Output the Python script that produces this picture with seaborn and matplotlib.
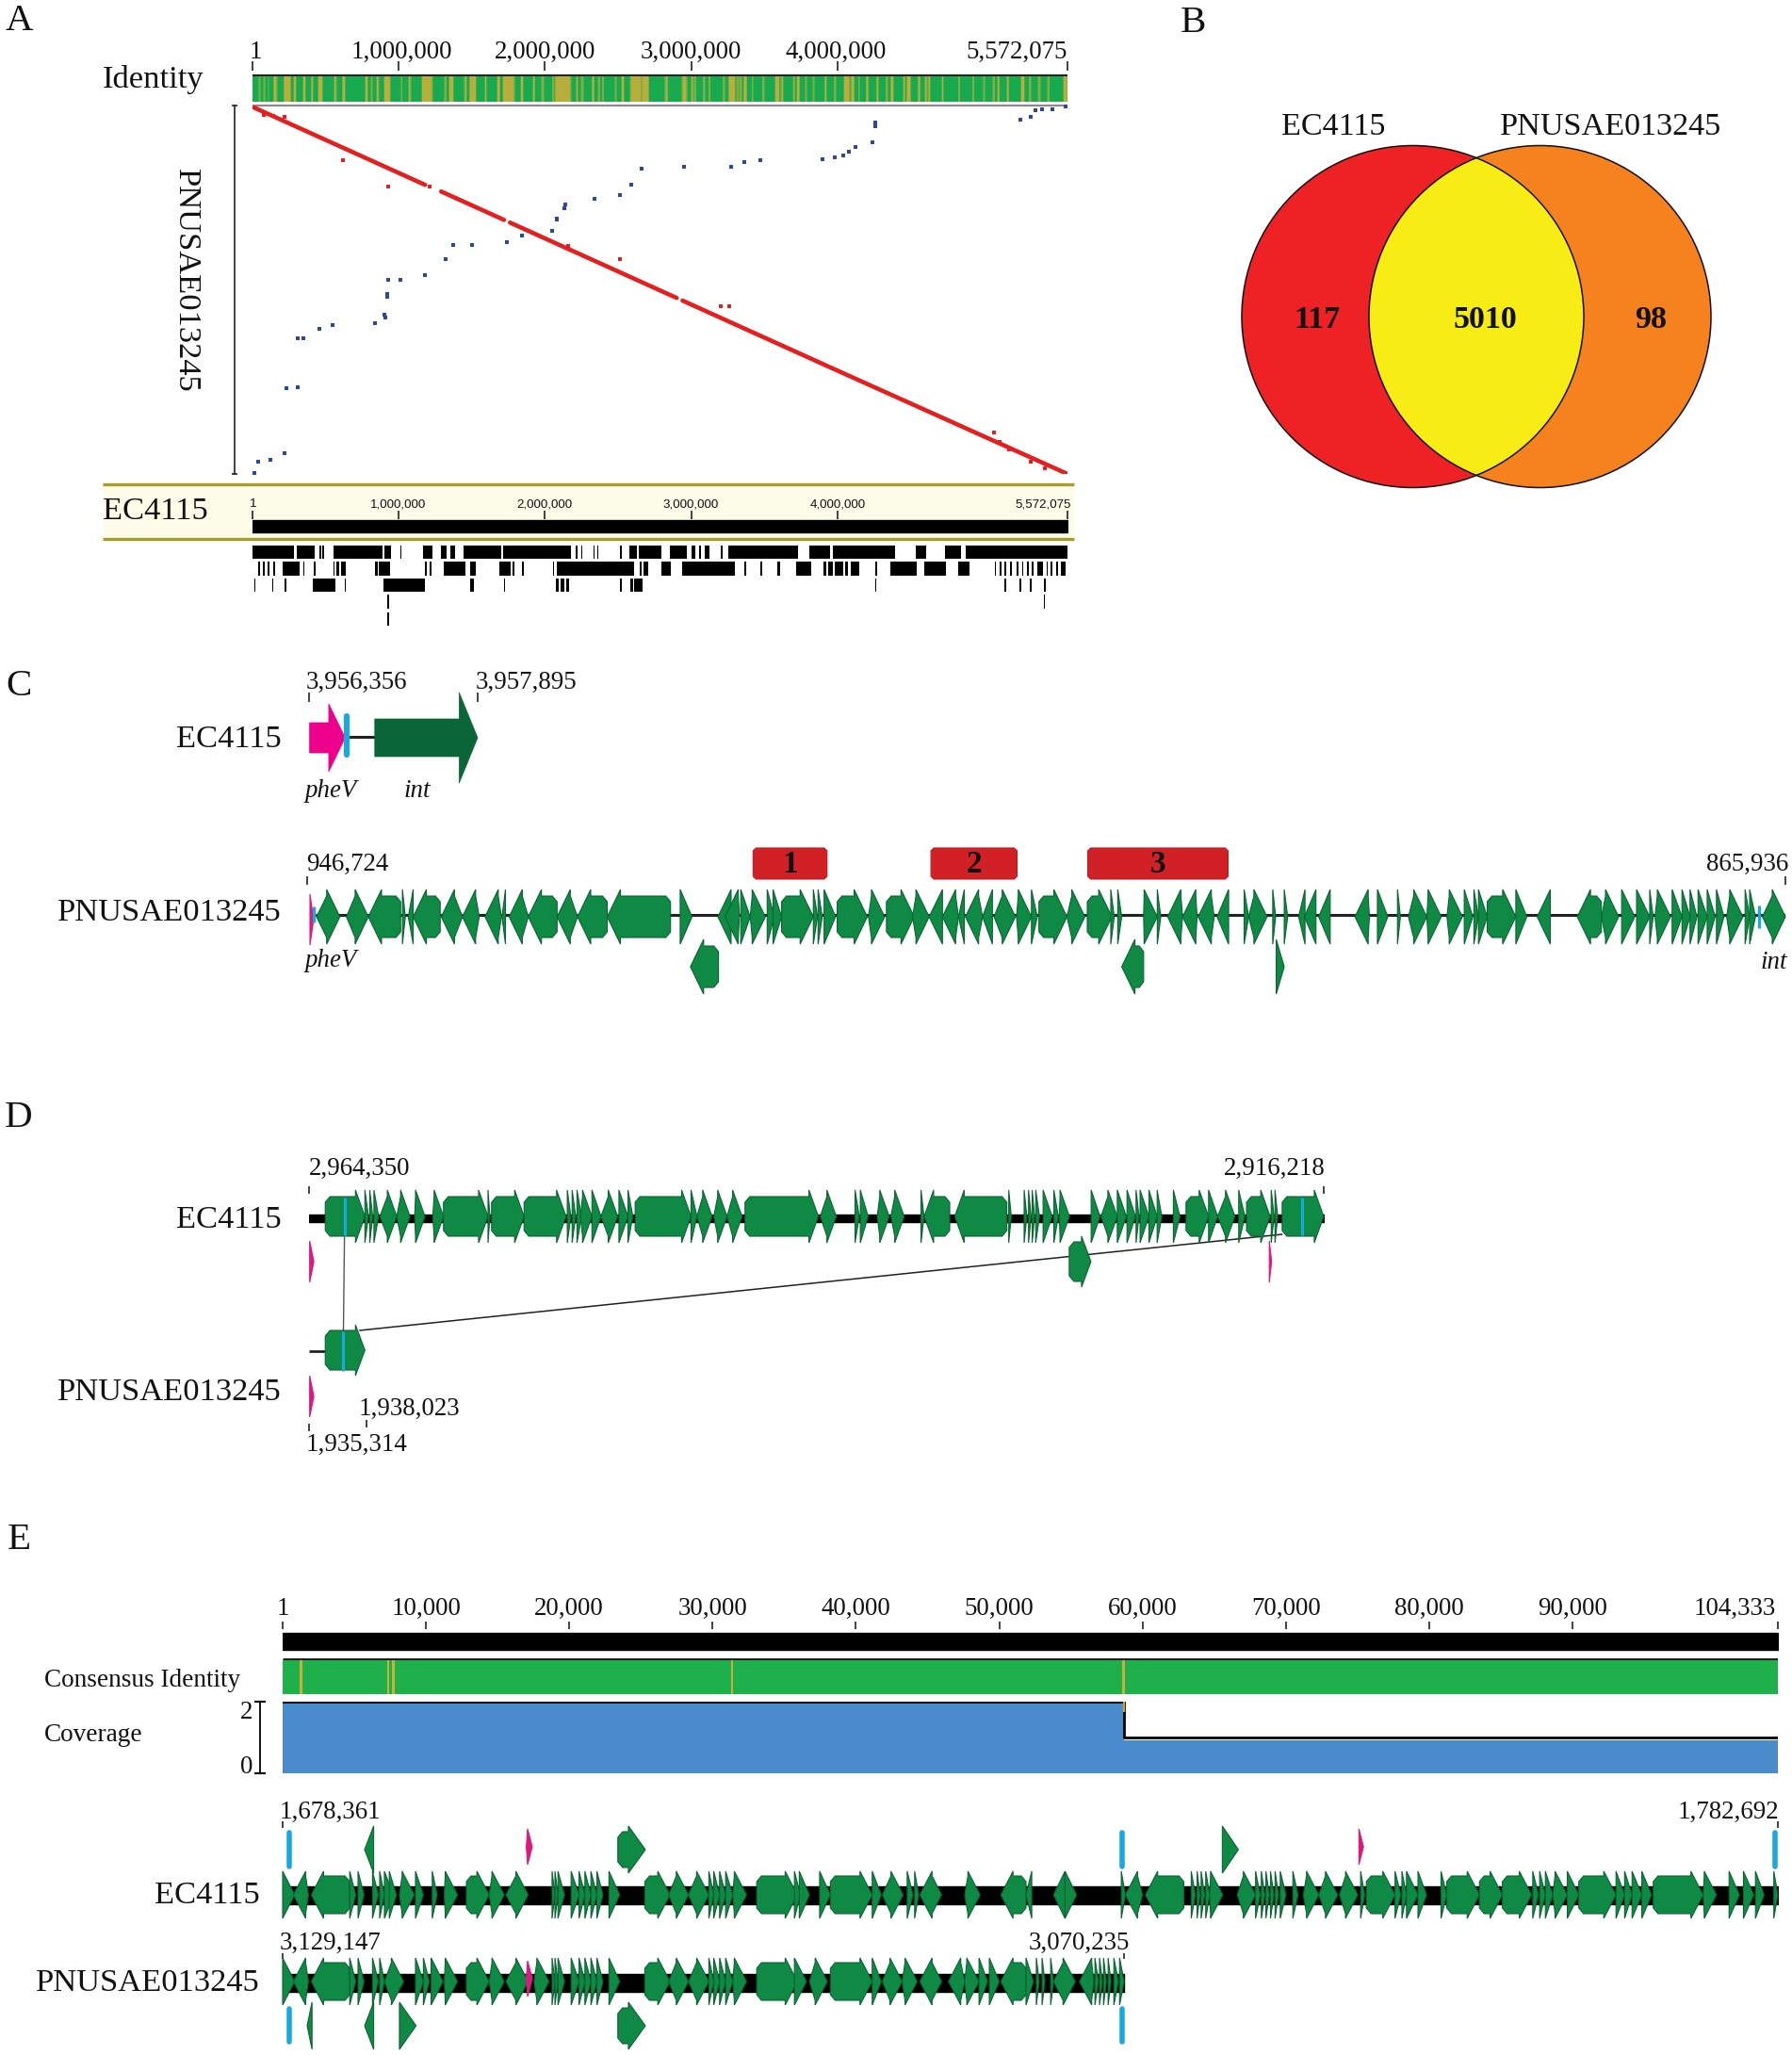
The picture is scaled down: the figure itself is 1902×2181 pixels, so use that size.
import numpy as np
import pandas as pd
import matplotlib
matplotlib.use("Agg")
import matplotlib.pyplot as plt
from matplotlib.colors import LinearSegmentedColormap
from matplotlib.patches import Polygon, Circle, Rectangle
import seaborn as sns

sns.set_theme(style="white")
plt.rcParams["font.family"] = ["Liberation Serif", "DejaVu Serif"]

# ---------------------------------------------------------------- data: panel A (Mb)
genome_len = 5.572075
a_tick_pos = [0.0, 1.0, 2.0, 3.0, 4.0, 5.572]
a_tick_lab = ["1", "1,000,000", "2,000,000", "3,000,000", "4,000,000", "5,572,075"]
identity_low = [(.043,.052),(.075,.084),(.107,.112),(.144,.168),(.215,.262),(.284,.299),(.348,.363),(.402,.412),
    (.451,.477),(.558,.573),(.612,.634),(.773,.788),(.81,.82),(.846,.863),(.898,.945),(1.014,1.024),(1.067,1.082),
    (1.16,1.229),(1.314,1.327),(1.347,1.372),(1.45,1.465),(1.486,1.529),(1.587,1.598),(1.673,1.69),(1.712,1.791),
    (1.834,1.851),(1.92,1.931),(1.98,1.991),(2.051,2.062),(2.071,2.178),(2.212,2.223),(2.249,2.26),(2.32,2.335),
    (2.363,2.378),(2.393,2.401),(2.481,2.489),(2.522,2.539),(2.582,2.657),(2.661,2.711),(2.822,2.839),(2.938,2.968),
    (3.0,3.011),(3.022,3.033),(3.082,3.091),(3.119,3.129),(3.215,3.226),(3.254,3.301),(3.312,3.323),(3.333,3.344),
    (3.359,3.381),(3.415,3.424),(3.488,3.499),(3.576,3.602),(3.613,3.63),(3.699,3.709),(3.72,3.741),(3.78,3.788),
    (3.831,3.84),(3.913,3.924),(3.977,3.988),(4.042,4.085),(4.091,4.117),(4.143,4.153),(4.196,4.209),(4.267,4.278),
    (4.332,4.342),(4.364,4.381),(4.45,4.46),(4.475,4.503),(4.551,4.564),(4.596,4.611),(4.622,4.632),(4.712,4.725),
    (4.826,4.836),(4.922,4.933),(4.997,5.008),(5.062,5.073),(5.094,5.105),(5.158,5.169),(5.255,5.277),(5.309,5.32),
    (5.373,5.384),(5.438,5.448),(5.545,5.572)]
fwd_seg_x = [0.0, 1.18, 1.29, 1.72, 1.76, 2.90, 2.94, 3.94, 3.95, 5.565]
fwd_seg_y = [0.02, 1.20, 1.30, 1.73, 1.77, 2.91, 2.95, 3.95, 3.96, 5.565]
fwd_seg_id = [0, 0, 1, 1, 2, 2, 3, 3, 4, 4]
fwd_x = [.62,.93,2.51,3.20,3.26,.22,5.07,5.11,1.21,2.16,5.32,5.42,.08,.14,5.17]
fwd_y = [.83,1.23,2.32,3.04,3.04,.17,4.94,5.09,1.23,2.12,5.39,5.48,.14,.15,5.20]
rev_x = [.01,.04,.12,.22,.23,.31,.31,.35,.46,.55,.84,.90,.91,.92,.92,.93,1.01,1.18,1.32,1.37,1.50,1.74,1.84,2.05,2.08,2.08,2.13,2.14,
         2.34,2.51,2.59,2.66,2.95,3.27,3.36,3.47,3.90,3.98,4.04,4.08,4.12,4.24,4.26,4.26,4.26,5.25,5.32,5.35,5.40,5.47,5.56]
rev_y = [5.56,5.39,5.36,5.26,4.27,4.26,3.52,3.52,3.38,3.32,3.29,3.17,3.20,2.85,2.89,2.63,2.63,2.56,2.32,2.11,2.11,2.07,1.96,1.90,
         1.73,1.71,1.56,1.50,1.41,1.36,1.20,.95,.92,.92,.86,.83,.81,.78,.75,.70,.62,.56,.25,.28,.31,.22,.17,.07,.06,.06,.02]
rep_row1 = [(0,.281),(.305,.424),(.458,.468),(.478,.488),(.552,.887),(.901,.946),(1.01,1.02),(1.163,1.232),(1.291,1.33),
    (1.35,1.384),(1.443,1.7),(1.714,2.177),(2.207,2.222),(2.246,2.256),(2.33,2.34),(2.355,2.365),(2.512,2.522),
    (2.576,2.631),(2.64,2.793),(2.852,2.97),(3.005,3.03),(3.054,3.064),(3.094,3.123),(3.202,3.212),(3.251,3.729),
    (3.808,3.951),(3.966,4.394),(4.532,4.606),(4.734,4.842),(4.877,5.572)]
rep_row2 = [(.01,.015),(.039,.049),(.074,.084),(.103,.113),(.143,.153),(.207,.32),(.345,.355),(.419,.429),(.552,.562),
    (.576,.591),(.606,.635),(.837,.857),(.862,.941),(1.177,1.192),(1.212,1.227),(1.305,1.453),(1.488,1.527),(1.685,1.764),
    (1.778,1.788),(1.842,1.852),(2.054,2.064),(2.079,2.611),(2.645,2.66),(2.675,2.704),(2.793,2.862),(2.936,3.3),
    (3.365,3.374),(3.473,3.483),(3.586,3.606),(3.714,3.818),(3.906,3.921),(3.936,3.97),(3.98,4.039),(4.049,4.074),
    (4.089,4.148),(4.256,4.271),(4.36,4.542),(4.596,4.739),(4.828,4.901),(5.074,5.084),(5.108,5.118),(5.143,5.153),
    (5.182,5.192),(5.227,5.236),(5.261,5.271),(5.296,5.305),(5.33,5.34),(5.369,5.404),(5.429,5.438),(5.458,5.468),
    (5.493,5.507),(5.527,5.557)]
rep_row3 = [(.01,.02),(.133,.143),(.222,.232),(.414,.567),(.631,.64),(.897,1.182),(1.488,1.517),(1.719,1.729),(2.074,2.094),
    (2.108,2.133),(2.143,2.163),(2.512,2.522),(2.586,2.601),(2.611,2.67),(4.256,4.266),(5.143,5.153),(5.246,5.256),
    (5.315,5.325),(5.414,5.424)]
rep_row4 = [(.921,.936),(5.409,5.419)]
rep_row5 = [(.921,.936)]

# ---------------------------------------------------------------- data: panel B
venn_counts = [117, 5010, 98]
venn_names = ["EC4115", "PNUSAE013245"]

# ---------------------------------------------------------------- data: panel C (kb from left end; start > end = reverse strand)
c_ec_len = 1.539
c_pn_len = 80.9
c_pn_genes = [(.36,1.64),(2.0,3.2),(4.97,3.2),(5.07,5.23),(5.66,5.39),(7.14,5.66),(8.36,7.2),(9.28,8.36),(10.5,9.6),(10.72,10.53),
    (11.97,10.92),(13.55,11.97),(14.67,13.55),(16.3,14.67),(19.77,16.3),(20.3,20.95),(23.09,22.37),(23.55,22.76),(23.62,24.14),
    (24.14,24.97),(25.07,25.46),(25.39,25.86),(25.86,27.6),(27.6,27.83),(27.86,28.09),(28.19,28.82),(28.91,30.56),(30.62,31.51),
    (31.61,33.13),(33.04,33.95),(34.68,33.95),(35.56,34.68),(35.88,35.56),(36.88,35.94),(37.42,36.88),(37.51,38.68),(38.74,39.56),
    (39.56,39.88),(39.97,41.51),(41.51,42.49),(42.62,43.97),(43.91,44.1),(44.29,44.51),(45.71,46.46),(46.46,46.65),(47.85,47.03),
    (48.64,47.85),(49.58,48.7),(50.37,49.74),(51.22,51.47),(51.47,52.48),(52.79,52.95),(53.42,53.61),(54.56,54.21),(55.16,54.53),
    (55.94,55.31),(58.09,57.3),(58.53,59.1),(59.63,59.79),(60.23,61.24),(61.24,62.03),(62.34,63.19),(63.29,63.76),(63.82,64.07),
    (64.07,64.55),(64.55,66.12),(66.12,66.72),(68.01,67.29),(70.81,69.49),(70.81,71.76),(71.92,72.64),(72.74,73.46),(73.46,73.65),
    (73.75,74.6),(74.69,75.23),(75.23,75.67),(75.67,76.05),(76.11,76.61),(76.61,77.05),(77.12,77.53),(77.68,78.57),(78.69,78.94),
    (78.94,79.26),(79.64,80.9)]
c_pn_lower = [(22.4,20.86),(45.71,44.51),(52.98,53.42)]
c_boxes = [(24.3,28.35,"1"),(34.05,38.77,"2"),(42.65,50.34,"3")]

# ---------------------------------------------------------------- data: panel D (kb)
d_len = 48.132
d_ec_genes = [(.77,2.65),(2.65,2.82),(2.88,3.02),(3.08,3.30),(3.36,4.16),(4.16,4.79),(5.01,5.50),(5.87,6.38),(6.38,8.49),(8.49,8.58),
    (8.66,10.2),(10.2,12.19),(12.25,12.42),(12.48,12.65),(12.71,12.93),(12.88,13.42),(13.42,13.85),(13.85,14.64),(14.70,15.13),
    (15.13,15.36),(15.47,18.12),(18.12,18.4),(18.4,19.12),(19.2,19.83),(19.83,20.54),(20.68,24.16),(24.25,25.01),(25.9,26.1),
    (26.15,26.52),(26.95,27.52),(27.6,28.23),(29.03,29.17),(30.39,29.18),(33.1,30.63),(33.19,33.31),(33.92,34.05),(34.13,34.25),
    (34.3,34.42),(34.47,34.65),(34.82,35.25),(35.33,35.54),(35.59,36.07),(37.1,37.52),(37.57,38.34),(38.34,38.77),(38.8,39.2),
    (39.23,39.37),(39.42,39.84),(39.84,40.23),(40.23,40.45),(41.0,41.31),(41.6,42.67),(42.67,43.1),(43.1,43.92),(44.1,44.39),
    (44.47,45.59),(45.64,45.78),(45.82,45.95),(46.16,48.13)]
d_ec_lower = [(36.06,37.09)]
d_pn_len = 2.709
d_pn_genes = [(.77,2.65)]

# ---------------------------------------------------------------- data: panel E (kb)
e_len = 104.333
e_tick_pos = [0, 10, 20, 30, 40, 50, 60, 70, 80, 90, 104.333]
e_tick_lab = ["1", "10,000", "20,000", "30,000", "40,000", "50,000", "60,000", "70,000", "80,000", "90,000", "104,333"]
consensus_low = [(1.25,1.38),(7.32,7.45),(7.65,7.78),(31.25,31.38),(58.55,58.8)]
cov_pos = [0, 58.7, 58.7, 104.333]
cov_val = [2, 2, 1, 1]
e_ec_genes = [(0,.84),(1.8,.75),(4.68,2.0),(4.68,5.1),(5.26,5.68),(6.27,6.68),(6.77,7.1),(7.1,7.73),(7.44,7.94),(8.15,9.19),(9.27,9.82),
    (10.44,10.78),(11.28,12.2),(12.82,14.41),(14.41,15.46),(15.58,17.13),(18.8,19.0),(19.0,19.21),(19.21,19.67),(20.13,20.68),(20.68,21.09),
    (21.09,21.51),(21.51,21.93),(21.93,22.35),(22.77,23.52),(25.27,27.03),(26.94,28.32),(28.32,29.74),(29.74,30.08),(30.08,30.49),(30.49,30.91),
    (30.91,31.41),(31.41,32.37),(33.08,35.92),(35.71,36.13),(36.05,36.76),(37.47,38.22),(38.22,41.14),(41.14,41.77),(41.85,43.3),(43.58,43.98),
    (44.1,44.38),(45.98,44.46),(47.59,48.67),(51.87,50.11),(52.27,51.87),(54.59,53.79),(54.59,55.4),(58.52,58.8),(60.0,58.8),(62.88,60.2),
    (63.4,63.69),(63.81,64.01),(64.09,64.33),(64.41,64.69),(64.69,65.6),(66.61,67.89),(67.89,68.21),(68.29,68.53),(68.61,68.85),(68.93,69.17),
    (69.25,69.49),(69.61,70.01),(70.49,70.85),(71.22,72.3),(72.3,73.62),(73.74,75.02),(75.22,75.5),(75.62,77.62),(77.62,78.02),(78.1,78.42),
    (78.42,79.22),(79.22,79.82),(80.83,81.23),(81.23,83.51),(83.51,85.11),(85.11,87.15),(87.23,87.63),(87.71,88.11),(88.11,88.63),(88.63,89.64),
    (89.64,90.44),(90.44,93.04),(93.04,93.64),(93.64,94.16),(94.16,94.84),(94.84,95.52),(95.64,99.12),(99.12,100.05),(100.93,101.65),
    (101.93,102.65),(102.77,103.37),(104.05,104.33)]
e_ec_upper = [(6.35,5.72),(23.39,25.31),(65.57,66.69)]
e_pn_len = 58.72
e_pn_genes = [(0,.84),(1.8,.75),(4.68,2.0),(4.68,5.1),(5.26,5.68),(6.27,6.68),(6.77,7.1),(7.1,8.44),(9.27,9.82),(9.82,10.23),(10.36,11.19),
    (11.28,12.2),(12.82,14.41),(14.41,15.46),(15.58,17.13),(17.54,18.59),(18.8,19.0),(19.0,19.21),(19.21,19.67),(20.13,20.68),(20.68,21.09),
    (21.09,21.51),(21.51,21.93),(21.93,22.35),(22.77,23.52),(25.27,27.03),(26.94,28.32),(28.32,29.74),(29.74,30.08),(30.08,30.49),(30.49,30.91),
    (30.91,31.41),(31.41,32.37),(33.08,35.92),(35.71,36.55),(36.76,38.01),(38.22,41.14),(41.14,41.77),(41.85,43.23),(43.23,44.28),(45.98,44.46),
    (47.59,46.46),(47.59,48.59),(48.59,49.19),(49.31,50.0),(51.87,50.11),(51.87,52.39),(52.59,52.79),(52.99,53.19),(53.59,53.79),(53.79,55.31),
    (56.6,55.6),(56.68,56.92),(57.0,57.2),(57.28,57.48),(57.6,57.8),(58.0,58.32),(58.4,58.72)]
e_pn_lower = [(2.05,1.71),(6.35,5.72),(8.15,9.31),(23.39,25.31)]
e_blue_ec = [.46, 58.6, 104.13]
e_blue_pn = [.46, 58.6]
e_pink_ec = [(17.0,17.42),(75.1,75.42)]
e_pink_pn = [(17.0,17.42)]

# ---------------------------------------------------------------- styles
W, H = 1902, 2181
GREEN, GREEN_EDGE, DARK_GREEN = "#0F8A45", "#0B6332", "#0A6636"
PINK, CYAN, RED_BOX = "#D81B80", "#19A9E0", "#D22027"
OLIVE, ID_GREEN = "#B8AE3C", "#18AA4E"
SERIF_LAB, SERIF_NUM, LETTER = 24.8, 19.4, 29.5

fig = plt.figure(figsize=(W / 100, H / 100), dpi=100, facecolor="white")


def px_axes(x0, y0, x1, y1, xlim=None, pixel_y=True):
    ax = fig.add_axes([x0 / W, 1 - y1 / H, (x1 - x0) / W, (y1 - y0) / H], zorder=2)
    ax.patch.set_alpha(0)
    ax.set_axis_off()
    if xlim is not None:
        ax.set_xlim(*xlim)
    if pixel_y:
        ax.set_ylim(y1, y0)
    return ax


ov = fig.add_axes([0, 0, 1, 1], zorder=1)
ov.set_xlim(0, W)
ov.set_ylim(H, 0)
ov.set_axis_off()


def label(x, y, s, size=SERIF_NUM, ha="left", **kw):
    ov.text(x, y + 2, s, fontsize=size, ha=ha, va="center", color="#111111", **kw)


def gene(ax, a, b, yc, body, head, hpx, ppk, color=GREEN, edge=GREEN_EDGE, z=3, flat=False):
    """Arrow-shaped gene from a to b (a > b means reverse strand)."""
    d = 1 if b >= a else -1
    w = abs(b - a)
    h = min(w, hpx / ppk)
    neck = b - d * h
    rear = (w - h) * ppk
    if rear < 0.5:
        pts = [(a, yc - head), (b, yc), (a, yc + head)]
    elif rear <= 11 and not flat:
        pts = [(a, yc), (neck, yc - body), (neck, yc - head), (b, yc), (neck, yc + head), (neck, yc + body)]
    else:
        c = min(5.0, rear / 2) / ppk
        pts = [(a + d * c, yc - body), (neck, yc - body), (neck, yc - head), (b, yc), (neck, yc + head),
               (neck, yc + body), (a + d * c, yc + body), (a, yc + body - 6), (a, yc - body + 6)]
    ax.add_patch(Polygon(pts, closed=True, facecolor=color, edgecolor=edge, linewidth=0.8, zorder=z, clip_on=False))


def strip(ax, length, low, cells, base, dip, smooth=1):
    """Identity strip: one row of windows, drawn as a seaborn heatmap."""
    edges = np.linspace(0, length, cells + 1)
    mid = (edges[:-1] + edges[1:]) / 2
    vals = np.zeros(cells)
    for s, e in low:
        vals[(mid >= s) & (mid <= e)] = 1
    if smooth > 1:
        vals = np.convolve(vals, np.ones(smooth) / smooth, mode="same")
    cmap = LinearSegmentedColormap.from_list("ident", [base, dip])
    sns.heatmap(vals.reshape(1, -1), ax=ax, cmap=cmap, vmin=0, vmax=1, cbar=False,
                xticklabels=False, yticklabels=False)
    ax.set_axis_off()


def ticks(ax, xs, y0, y1, lw=1.2):
    ax.vlines(xs, y0, y1, color="#222222", linewidth=lw, clip_on=False)


# ================================================================ panel A
label(20, 21, "A", LETTER, ha="center")
label(109, 82, "Identity", SERIF_LAB)
ax = px_axes(268, 50, 1133, 80, (0, genome_len))
ticks(ax, a_tick_pos, 65, 75)
for cx, t in zip([271, 426, 579, 733, 887], a_tick_lab):
    label(cx, 53, t, ha="center")
label(1133, 53, a_tick_lab[-1], ha="right")
ov.hlines(79.5, 268, 1133, color="#222222", linewidth=1.6)
ov.hlines(112, 268, 1133, color="#8a8a8a", linewidth=1.6)
strip(px_axes(268, 81, 1133, 108, pixel_y=False), genome_len, identity_low, 1400, ID_GREEN, OLIVE, smooth=3)

dot = px_axes(268, 112, 1133, 503, pixel_y=False)
sns.lineplot(data=pd.DataFrame({"x": fwd_seg_x, "y": fwd_seg_y, "seg": fwd_seg_id}), x="x", y="y", units="seg",
             estimator=None, color="#E3201F", linewidth=3.3, ax=dot, legend=False)
sns.scatterplot(x=fwd_x, y=fwd_y, marker="s", s=10, color="#E3201F", linewidth=0, ax=dot, clip_on=False)
sns.scatterplot(x=rev_x, y=rev_y, marker="s", s=12, color="#2B4A9E", linewidth=0, ax=dot, clip_on=False)
dot.set_xlim(0, genome_len)
dot.set_ylim(genome_len, 0)
dot.set_axis_on()
dot.set_xlabel("")
dot.set_ylabel("")
dot.set_xticks([])
dot.set_yticks([0, genome_len])
dot.set_yticklabels([])
dot.tick_params(axis="y", direction="inout", length=5, width=1.2, color="#222222", left=True)
for s in ("top", "right", "bottom"):
    dot.spines[s].set_visible(False)
dot.spines["left"].set_position(("outward", 13.7))
dot.spines["left"].set_color("#222222")
dot.spines["left"].set_linewidth(1.2)
ov.text(197, 298, "PNUSAE013245", fontsize=SERIF_LAB, rotation=270, ha="center", va="center", color="#111111")

ov.add_patch(Rectangle((109, 514), 1031, 58, facecolor="#FDFCE9", edgecolor="none"))
ov.hlines([514, 572], 109, 1140, color="#A69F2E", linewidth=2.4)
label(109, 541, "EC4115", SERIF_LAB)
low = px_axes(268, 520, 1133, 670, (0, genome_len))
ticks(low, a_tick_pos, 542, 551)
low.broken_barh([(0, genome_len)], (552, 13), color="black")
for t, cx in zip(a_tick_lab, [269, 423, 578, 733, 889, 1107]):
    ov.text(cx, 535, t, fontsize=9.6, ha="center", va="center", color="#111111",
            family=["Liberation Sans Narrow", "Liberation Sans"])
for row, (y, h) in zip([rep_row1, rep_row2, rep_row3, rep_row4, rep_row5],
                       [(579, 14), (596, 15), (614, 14), (631, 15), (650, 14)]):
    low.broken_barh([(s, e - s) for s, e in row], (y, h), color="black", linewidth=0)

# ================================================================ panel B
label(1267, 22, "B", LETTER, ha="center")
c1 = Circle((1499.5, 336), 181.5, facecolor="#EE2125", edgecolor="none", zorder=2)
c2 = Circle((1634.5, 336), 181.5, facecolor="#F6811F", edgecolor="none", zorder=3)
ov.add_patch(c1)
ov.add_patch(c2)
mid = Circle((1499.5, 336), 181.5, facecolor="#F7EC13", edgecolor="none", zorder=4)
ov.add_patch(mid)
mid.set_clip_path(c2)
for cx in (1499.5, 1634.5):
    ov.add_patch(Circle((cx, 336), 181.5, facecolor="none", edgecolor="#111111", linewidth=1.1, zorder=5))
ov.text(1415, 135, venn_names[0], fontsize=24.6, ha="center", va="center", color="#111111")
ov.text(1710, 135, venn_names[1], fontsize=24.6, ha="center", va="center", color="#111111")
for x, n in zip((1398, 1576, 1752), venn_counts):
    ov.text(x, 340, str(n), fontsize=24.5, fontweight="bold", ha="center", va="center", color="#111111", zorder=6)

# ================================================================ panel C
label(20, 727, "C", LETTER, ha="center")
label(299, 783, "EC4115", SERIF_LAB, ha="right")
label(299, 967, "PNUSAE013245", SERIF_LAB, ha="right")
label(325, 722, "3,956,356")
label(505, 722, "3,957,895")
label(324, 837, "pheV", style="italic")
label(428, 837, "int", style="italic")
label(325, 915, "946,724")
label(1898, 915, "865,936", ha="right")
label(324, 1018, "pheV", style="italic")
label(1897, 1020, "int", ha="right", style="italic")

ce = px_axes(328, 730, 507, 835, (0, c_ec_len))
ticks(ce, [0, c_ec_len], 735, 745)
ce.hlines(782, 0.34, 0.60, color="#222222", linewidth=2.2)
ce.add_patch(Polygon([(0.005, 767), (0.18, 767), (0.18, 747), (0.33, 783), (0.18, 819), (0.18, 799), (0.005, 799)],
                     closed=True, facecolor="#EC008C", edgecolor="#EC008C", linewidth=0.5, clip_on=False, zorder=3))
ce.vlines(0.345, 760, 801, color=CYAN, linewidth=4.5, capstyle="round", zorder=4)
ce.add_patch(Polygon([(0.60, 763), (1.37, 763), (1.37, 735), (c_ec_len, 783), (1.37, 831), (1.37, 803), (0.60, 803)],
                     closed=True, facecolor=DARK_GREEN, edgecolor=DARK_GREEN, linewidth=0.5, clip_on=False, zorder=3))

cp = px_axes(329, 895, 1895, 1060, (0, c_pn_len))
ppk = 1566 / c_pn_len
ticks(cp, [-0.15, c_pn_len], 930, 939)
cp.hlines(971, 0, c_pn_len, color="#222222", linewidth=2.2, zorder=1)
for a, b in c_pn_genes:
    gene(cp, a, b, 973, 22, 29, 14, ppk)
for a, b in c_pn_lower:
    gene(cp, a, b, 1026, 22, 29, 14, ppk, flat=True)
gene(cp, 0.0, 0.2, 976, 27, 27, 4, ppk, color=PINK, edge=PINK)
cp.vlines([0.23, 79.45], [962, 961], [979, 985], color=CYAN, linewidth=2.4, zorder=4)
for s, e, t in c_boxes:
    c = 3 / ppk
    cp.add_patch(Polygon([(s + c, 900), (e - c, 900), (e, 903), (e, 930), (e - c, 933), (s + c, 933), (s, 930), (s, 903)],
                         closed=True, facecolor=RED_BOX, edgecolor="#C01A20", linewidth=0.8, zorder=3))
    cp.text((s + e) / 2, 917, t, fontsize=24, fontweight="bold", ha="center", va="center", color="#111111", zorder=4)

# ================================================================ panel D
label(20, 1185, "D", LETTER, ha="center")
label(299, 1293, "EC4115", SERIF_LAB, ha="right")
label(299, 1476, "PNUSAE013245", SERIF_LAB, ha="right")
label(328, 1238, "2,964,350")
label(1407, 1238, "2,916,218", ha="right")
label(381, 1493, "1,938,023")
label(325, 1531, "1,935,314")
dx = px_axes(328, 1255, 1405, 1525, (0, d_len))
ppk = 1077 / d_len
ticks(dx, [0, d_len], 1259, 1267)
ticks(dx, [0], 1511, 1519)
ticks(dx, [d_pn_len], 1507, 1515)
dx.broken_barh([(0, d_len)], (1289, 8), color="black", zorder=1)
dx.plot([1.68, 1.63], [1313, 1413], color="#555555", linewidth=1, clip_on=False, zorder=2)
dx.plot([2.4, 46.16], [1412, 1310], color="#222222", linewidth=1.1, clip_on=False, zorder=2)
for a, b in d_ec_genes:
    gene(dx, a, b, 1291, 21, 28, 10, ppk)
for a, b in d_ec_lower:
    gene(dx, a, b, 1339, 21, 27, 10, ppk, flat=True)
gene(dx, .03, .23, 1339, 22, 22, 4, ppk, color=PINK, edge=PINK)
gene(dx, 45.55, 45.66, 1339, 22, 22, 3, ppk, color=PINK, edge=PINK)
dx.vlines([1.68, 47.1], 1271, 1311, color=CYAN, linewidth=2.2, zorder=4)
dx.hlines(1434, 0, .77, color="#222222", linewidth=2)
for a, b in d_pn_genes:
    gene(dx, a, b, 1433, 21, 27, 10, ppk, flat=True)
dx.vlines(1.63, 1413, 1455, color=CYAN, linewidth=2.2, zorder=4)
gene(dx, .03, .23, 1482, 22, 22, 4, ppk, color=PINK, edge=PINK)

# ================================================================ panel E
E_RIGHT = 1887
label(20, 1632, "E", LETTER, ha="center")
label(47, 1781, "Consensus Identity", 19.6)
label(47, 1839, "Coverage", 19.6)
label(276, 2010, "EC4115", SERIF_LAB, ha="right")
label(276, 2103, "PNUSAE013245", SERIF_LAB, ha="right")
label(297, 1921, "1,678,361")
label(1888, 1921, "1,782,692", ha="right")
label(297, 2060, "3,129,147")
label(1199, 2060, "3,070,235", ha="right")

eppk = (E_RIGHT - 300) / e_len
er = px_axes(300, 1690, E_RIGHT, 1762, (0, e_len))
ticks(er, e_tick_pos, 1721, 1729)
er.broken_barh([(0, e_len)], (1733, 18), color="black")
er.hlines(1760.5, 0, e_len, color="#111111", linewidth=2)
for p, t in zip(e_tick_pos, e_tick_lab):
    cx = 300 + p * eppk
    label(1885 if t == "104,333" else cx, 1705, t, ha="right" if t == "104,333" else "center")
strip(px_axes(300, 1762, E_RIGHT, 1798, pixel_y=False), e_len, consensus_low, 1040, "#1DB04B", "#C9B13A")

cov = px_axes(300, 1806, E_RIGHT, 1882, pixel_y=False)
cov.fill_between(cov_pos, 0, [v - (0.08 if v == 1 else 0) for v in cov_val], color="#4A8CCB", linewidth=0)
sns.lineplot(x=cov_pos, y=cov_val, sort=False, estimator=None, color="black", linewidth=2, ax=cov, legend=False)
cov.vlines(58.7, 1.72, 2.0, color="#D9A520", linewidth=1.6, zorder=5)
cov.set_xlim(0, e_len)
cov.set_ylim(0, 2)
cov.set_axis_on()
cov.set_xlabel("")
cov.set_xticks([])
cov.set_yticks([0, 2])
cov.set_yticklabels([])
cov.tick_params(axis="y", direction="inout", length=9, width=1.6, color="#111111", left=True)
for s in ("top", "right", "bottom"):
    cov.spines[s].set_visible(False)
cov.spines["left"].set_position(("outward", 17.6))
cov.spines["left"].set_color("#111111")
cov.spines["left"].set_linewidth(1.4)
label(262, 1815, "2", ha="center")
label(262, 1873, "0", ha="center")

et = px_axes(300, 1915, E_RIGHT, 2181, (0, e_len))
ticks(et, [0, e_len], 1933, 1940)
ticks(et, [0], 2073, 2079)
ticks(et, [e_pn_len], 2073, 2079)
et.broken_barh([(0, e_len)], (2002, 19), color="black", zorder=1)
et.broken_barh([(0, e_pn_len)], (2095, 19), color="black", zorder=1)
for a, b in e_ec_genes:
    gene(et, a, b, 2011, 20, 25, 13, eppk)
for a, b in e_ec_upper:
    gene(et, a, b, 1963, 19, 25, 18, eppk, flat=True)
for a, b in e_pn_genes:
    gene(et, a, b, 2103, 20, 25, 13, eppk)
for a, b in e_pn_lower:
    gene(et, a, b, 2150, 19, 25, 18, eppk, flat=True)
for a, b in e_pink_ec:
    gene(et, a, b, 1960, 19, 19, 5, eppk, color=PINK, edge=PINK)
for a, b in e_pink_pn:
    gene(et, a, b, 2100, 19, 19, 5, eppk, color=PINK, edge=PINK, z=5)
et.vlines(e_blue_ec, 1945, 1981, color=CYAN, linewidth=4, capstyle="round", zorder=4)
et.vlines(e_blue_pn, 2132, 2167, color=CYAN, linewidth=4, capstyle="round", zorder=4)

fig.savefig("out.png", dpi=100, facecolor="white")
